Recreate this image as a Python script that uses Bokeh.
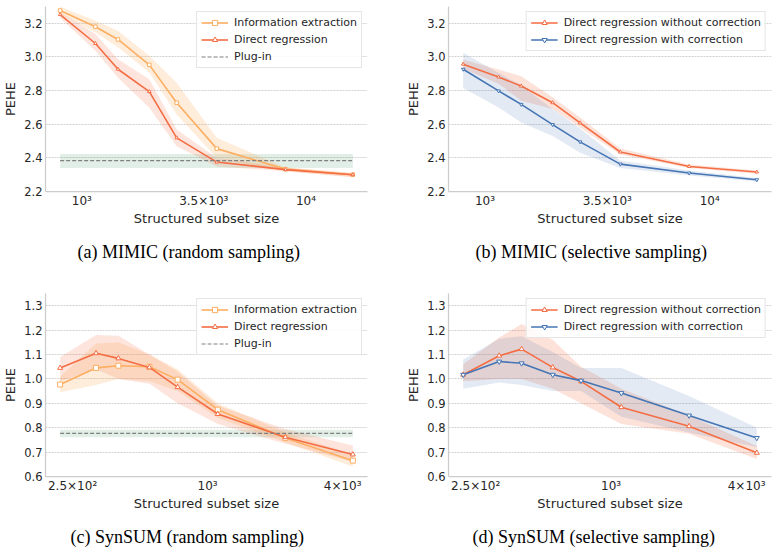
from bokeh.plotting import figure
from bokeh.layouts import column, row
from bokeh.models import FixedTicker, Range1d, Title, NumeralTickFormatter
from bokeh.embed import file_html
from bokeh.resources import INLINE

# ---------------- data ----------------
# structured subset sizes
mimic_sizes = [800, 1150, 1450, 2000, 2650, 4000, 8100, 16200]
synsum_sizes = [220, 318, 400, 550, 735, 1110, 2220, 4440]

mimic_xticks = [1000, 3500, 10000]
mimic_xtick_labels = ["10³", "3.5×10³", "10⁴"]
synsum_xticks = [250, 1000, 4000]
synsum_xtick_labels = ["2.5×10²", "10³", "4×10³"]

mimic_yticks = [2.2, 2.4, 2.6, 2.8, 3.0, 3.2]
synsum_yticks = [0.6, 0.7, 0.8, 0.9, 1.0, 1.1, 1.2, 1.3]

# (a) MIMIC, random sampling
a_ie_mean = [3.276, 3.180, 3.104, 2.953, 2.728, 2.455, 2.333, 2.300]
a_ie_lo = [3.256, 3.146, 3.057, 2.907, 2.658, 2.399, 2.320, 2.286]
a_ie_hi = [3.300, 3.216, 3.156, 3.007, 2.847, 2.519, 2.343, 2.310]
a_dr_mean = [3.252, 3.080, 2.927, 2.794, 2.519, 2.375, 2.330, 2.300]
a_dr_lo = [3.232, 3.037, 2.877, 2.698, 2.469, 2.349, 2.320, 2.284]
a_dr_hi = [3.266, 3.136, 2.987, 2.867, 2.569, 2.399, 2.342, 2.310]
a_plugin = [2.339, 2.383, 2.423]  # low, mean, high

# (b) MIMIC, selective sampling
b_wo_mean = [2.957, 2.881, 2.827, 2.728, 2.608, 2.435, 2.349, 2.316]
b_wo_lo = [2.930, 2.840, 2.740, 2.690, 2.580, 2.420, 2.340, 2.305]
b_wo_hi = [2.985, 2.925, 2.885, 2.760, 2.640, 2.455, 2.360, 2.325]
b_wc_mean = [2.927, 2.798, 2.718, 2.598, 2.495, 2.363, 2.310, 2.270]
b_wc_lo = [2.815, 2.700, 2.610, 2.530, 2.430, 2.340, 2.295, 2.260]
b_wc_hi = [3.025, 2.905, 2.830, 2.690, 2.575, 2.385, 2.325, 2.280]

# (c) SynSUM, random sampling
c_ie_mean = [0.977, 1.045, 1.054, 1.050, 0.997, 0.874, 0.758, 0.665]
c_ie_lo = [0.945, 0.975, 1.000, 0.990, 0.950, 0.840, 0.740, 0.640]
c_ie_hi = [1.010, 1.145, 1.150, 1.100, 1.040, 0.900, 0.780, 0.690]
c_dr_mean = [1.045, 1.105, 1.084, 1.047, 0.966, 0.856, 0.761, 0.690]
c_dr_lo = [0.990, 1.040, 1.000, 0.980, 0.900, 0.815, 0.734, 0.660]
c_dr_hi = [1.090, 1.180, 1.177, 1.100, 1.030, 0.890, 0.795, 0.727]
c_plugin = [0.761, 0.777, 0.792]

# (d) SynSUM, selective sampling
d_wo_mean = [1.017, 1.095, 1.122, 1.047, 0.990, 0.884, 0.806, 0.697]
d_wo_lo = [0.990, 1.000, 1.000, 0.960, 0.900, 0.815, 0.775, 0.672]
d_wo_hi = [1.060, 1.170, 1.225, 1.160, 1.050, 0.960, 0.850, 0.725]
d_wc_mean = [1.017, 1.071, 1.064, 1.017, 0.993, 0.942, 0.850, 0.758]
d_wc_lo = [0.960, 0.985, 0.975, 0.950, 0.950, 0.845, 0.780, 0.720]
d_wc_hi = [1.080, 1.165, 1.175, 1.110, 1.045, 1.045, 0.930, 0.800]

# ---------------- styling ----------------
IE_COLOR = "#fdae61"
DR_COLOR = "#f46d43"
CORR_COLOR = "#4575b4"
PLUGIN_COLOR = "#808080"
PLUGIN_BAND = "#2e8b57"
TEXT_COLOR = "#262626"
FONT = "DejaVu Sans"


def make_panel(sizes, xticks, xtick_labels, yrange, yticks, series, plugin,
               caption, caption_offset, height, left, top, bottom, right):
    span = max(sizes) / min(sizes)
    pad = span ** 0.05
    p = figure(width=389, height=height, x_axis_type="log",
               x_range=Range1d(min(sizes) / pad, max(sizes) * pad),
               y_range=Range1d(*yrange),
               output_backend="svg", toolbar_location=None,
               min_border_left=left, min_border_right=right,
               min_border_top=top, min_border_bottom=bottom)
    p.outline_line_color = None
    p.background_fill_color = "white"
    p.border_fill_color = "white"

    # plug-in baseline with its interval
    if plugin is not None:
        lo, mid, hi = plugin
        p.varea(x=[sizes[0], sizes[-1]], y1=[lo, lo], y2=[hi, hi],
                fill_color=PLUGIN_BAND, fill_alpha=0.14)

    for s in series:
        p.varea(x=sizes, y1=s["lo"], y2=s["hi"],
                fill_color=s["color"], fill_alpha=s["alpha"])
    for s in series:
        p.line(sizes, s["mean"], line_color=s["color"], line_width=1.6,
               legend_label=s["name"])
        p.scatter(sizes, s["mean"], marker=s["marker"], size=s["size"],
                  fill_color="white", line_color=s["color"], line_width=1,
                  legend_label=s["name"])

    if plugin is not None:
        lo, mid, hi = plugin
        p.line([sizes[0], sizes[-1]], [mid, mid], line_color=PLUGIN_COLOR,
               line_width=1.2, line_dash="4 2", legend_label="Plug-in")

    # axes
    p.xaxis.ticker = FixedTicker(ticks=xticks, minor_ticks=[])
    p.xaxis.major_label_overrides = {t: lab for t, lab in zip(xticks, xtick_labels)}
    p.yaxis.ticker = FixedTicker(ticks=yticks, minor_ticks=[])
    p.yaxis.formatter = NumeralTickFormatter(format="0.0")
    p.xaxis.axis_label = "Structured subset size"
    p.yaxis.axis_label = "PEHE"
    for ax in (p.xaxis, p.yaxis):
        ax.axis_line_color = "#cccccc"
        ax.axis_line_width = 1.25
        ax.major_tick_line_color = None
        ax.minor_tick_line_color = None
        ax.major_tick_out = 0
        ax.major_tick_in = 0
        ax.minor_tick_out = 0
        ax.minor_tick_in = 0
        ax.major_label_text_font = FONT
        ax.major_label_text_color = TEXT_COLOR
        ax.axis_label_text_font = FONT
        ax.axis_label_text_font_size = "13px"
        ax.axis_label_text_font_style = "normal"
        ax.axis_label_text_color = TEXT_COLOR
    p.xaxis.major_label_text_font_size = "12px"
    p.yaxis.major_label_text_font_size = "11.5px"
    p.xaxis.major_label_standoff = 2
    p.xaxis.axis_label_standoff = 0
    p.yaxis.major_label_standoff = 3
    p.yaxis.axis_label_standoff = 3

    p.xgrid.visible = False
    p.ygrid.grid_line_color = "#d0d0d0"
    p.ygrid.grid_line_dash = "2 1"
    p.ygrid.grid_line_width = 1

    lg = p.legend[0]
    lg.location = "top_right"
    lg.margin = 5
    lg.padding = 4
    lg.spacing = 4
    lg.glyph_width = 27
    lg.glyph_height = 13
    lg.label_height = 13
    lg.label_standoff = 6
    lg.label_text_font = FONT
    lg.label_text_font_size = "11px"
    lg.label_text_color = TEXT_COLOR
    lg.border_line_color = "#cccccc"
    lg.border_line_width = 1
    lg.background_fill_alpha = 0.85

    p.add_layout(Title(text=caption, align="left", offset=caption_offset,
                       text_font="Liberation Serif", text_font_size="18px",
                       text_font_style="normal", text_color="black",
                       standoff=23), "below")
    return p


pa = make_panel(
    mimic_sizes, mimic_xticks, mimic_xtick_labels, (2.2, 3.3), mimic_yticks,
    [dict(name="Information extraction", color=IE_COLOR, marker="square", size=3.5,
          mean=a_ie_mean, lo=a_ie_lo, hi=a_ie_hi, alpha=0.22),
     dict(name="Direct regression", color=DR_COLOR, marker="triangle", size=3.5,
          mean=a_dr_mean, lo=a_dr_lo, hi=a_dr_hi, alpha=0.18)],
    a_plugin, "(a) MIMIC (random sampling)", 32, 280, 44, 6, 89, 22)

pb = make_panel(
    mimic_sizes, mimic_xticks, mimic_xtick_labels, (2.2, 3.3), mimic_yticks,
    [dict(name="Direct regression without correction", color=DR_COLOR,
          marker="triangle", size=3.5, mean=b_wo_mean, lo=b_wo_lo, hi=b_wo_hi, alpha=0.2),
     dict(name="Direct regression with correction", color=CORR_COLOR,
          marker="inverted_triangle", size=3.5, mean=b_wc_mean, lo=b_wc_lo, hi=b_wc_hi,
          alpha=0.15)],
    None, "(b) MIMIC (selective sampling)", 27, 280, 59, 6, 89, 7)

pc = make_panel(
    synsum_sizes, synsum_xticks, synsum_xtick_labels, (0.6, 1.35), synsum_yticks,
    [dict(name="Information extraction", color=IE_COLOR, marker="square", size=5,
          mean=c_ie_mean, lo=c_ie_lo, hi=c_ie_hi, alpha=0.22),
     dict(name="Direct regression", color=DR_COLOR, marker="triangle", size=5,
          mean=c_dr_mean, lo=c_dr_lo, hi=c_dr_hi, alpha=0.18)],
    c_plugin, "(c) SynSUM (random sampling)", 25, 278, 44, 13, 81, 22)

pd_ = make_panel(
    synsum_sizes, synsum_xticks, synsum_xtick_labels, (0.6, 1.35), synsum_yticks,
    [dict(name="Direct regression without correction", color=DR_COLOR,
          marker="triangle", size=5, mean=d_wo_mean, lo=d_wo_lo, hi=d_wo_hi, alpha=0.2),
     dict(name="Direct regression with correction", color=CORR_COLOR,
          marker="inverted_triangle", size=5, mean=d_wc_mean, lo=d_wc_lo, hi=d_wc_hi,
          alpha=0.15)],
    None, "(d) SynSUM (selective sampling)", 24, 278, 59, 13, 81, 7)

layout = column(row(pa, pb), row(pc, pd_))
open("out.html", "w").write(file_html(layout, INLINE))
